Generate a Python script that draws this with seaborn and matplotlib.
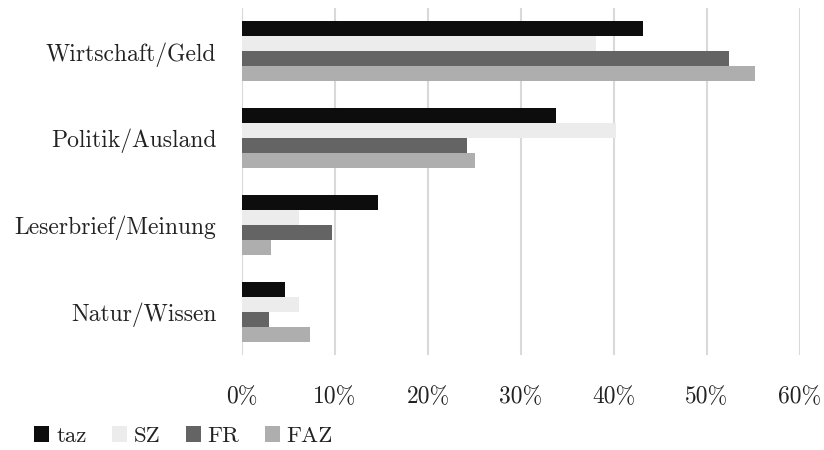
import matplotlib
matplotlib.use("Agg")
import matplotlib.pyplot as plt
import seaborn as sns
import pandas as pd
from matplotlib.ticker import FuncFormatter
from matplotlib.patches import Patch

categories = ["Wirtschaft/Geld", "Politik/Ausland", "Leserbrief/Meinung", "Natur/Wissen"]
series = ["taz", "SZ", "FR", "FAZ"]
taz = [43.1, 33.8, 14.6, 4.6]
sz = [38.1, 40.2, 6.1, 6.1]
fr = [52.4, 24.2, 9.7, 2.9]
faz = [55.2, 25.0, 3.1, 7.3]
colors = ["#0d0d0d", "#ececec", "#646464", "#aeaeae"]

rows = []
for name, vals in zip(series, [taz, sz, fr, faz]):
    for c, v in zip(categories, vals):
        rows.append({"Kategorie": c, "Zeitung": name, "Wert": v})
df = pd.DataFrame(rows)

sns.set_theme(style="white")
plt.rcParams["font.family"] = ["cmr10", "DejaVu Serif"]
plt.rcParams["axes.formatter.use_mathtext"] = True

fig = plt.figure(figsize=(8.24, 4.5), dpi=100)
ax = fig.add_axes([242/824, 1-355/450, (800-242)/824, (355-8)/450])
sns.barplot(data=df, x="Wert", y="Kategorie", hue="Zeitung", order=categories,
            hue_order=series, palette=colors, orient="h", width=0.69,
            saturation=1, ax=ax, legend=False, linewidth=0)
ax.set_xlim(0, 60)
ax.set_ylim(3.5, -0.5)
ax.set_xticks(range(0, 61, 10))
ax.xaxis.set_major_formatter(FuncFormatter(lambda v, p: f"{int(v)}%"))
ax.grid(axis="x", color="#d9d9d9", linewidth=1.5)
ax.set_axisbelow(True)
for s in ax.spines.values():
    s.set_visible(False)
ax.set_xlabel("")
ax.set_ylabel("")
ax.tick_params(axis="y", length=0, pad=18.5, labelsize=17, colors="#222222")
ax.tick_params(axis="x", length=0, pad=22, labelsize=17, colors="#222222")

handles = [Patch(facecolor=c, edgecolor="none") for c in colors]
fig.legend(handles, series, loc="center left", bbox_to_anchor=(0.022, 1-436/450),
           ncol=4, frameon=False, fontsize=16.5, handlelength=0.66, handleheight=0.66,
           handletextpad=0.3, columnspacing=1.1, labelcolor="#222222",
           borderpad=0.2)
fig.savefig("out.png", dpi=100)
